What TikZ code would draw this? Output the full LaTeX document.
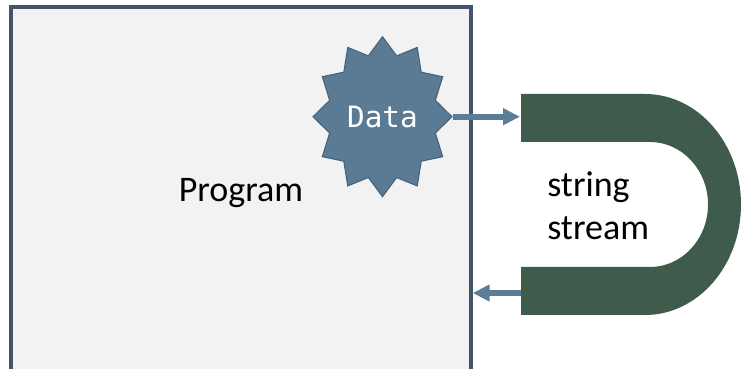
\documentclass[tikz,border=0pt]{standalone}
\usepackage{fontspec}
\setmainfont{Carlito}
\newfontfamily\datafont{DejaVu Sans Mono}
\usetikzlibrary{shapes.geometric,arrows.meta}

\definecolor{progfill}{HTML}{F2F2F2}
\definecolor{progline}{HTML}{44546A}
\definecolor{burstfill}{HTML}{5B7A93}
\definecolor{burstline}{HTML}{47607A}
\definecolor{flowline}{HTML}{5A7D98}
\definecolor{streamfill}{HTML}{3F5B4B}

\begin{document}
\begin{tikzpicture}[
    x=0.75pt, y=0.75pt,
    program/.style={rectangle, draw=progline, fill=progfill, line width=2.5pt,
      minimum width=345pt, minimum height=279pt,
      font=\fontsize{27}{32.4}\selectfont},
    burst/.style={star, star points=12, star point ratio=1.27, minimum size=120pt,
      inner sep=0pt, draw=burstline, fill=burstfill, line width=0.75pt},
    datatext/.style={text=white, font=\datafont\fontsize{22}{26}\selectfont},
    stream/.style={fill=streamfill},
    streamtext/.style={align=left, inner sep=0pt, anchor=west,
      font=\fontsize{27}{32.4}\selectfont},
    flow/.style={-{Triangle[length=12.75pt, width=12pt]}, line width=4.5pt, draw=flowline},
  ]

  \useasboundingbox (0,0) rectangle (743,368);
  \clip (0,0) rectangle (743,368);

  % program box
  \node (program) [program] at (241,175) {Program};

  % data burst
  \begin{scope}[shift={(382.5,251.3)}, xscale=0.869]
    \node (burst) [burst, transform shape] {};
  \end{scope}
  \node (data) [datatext] at (burst.center) {Data};

  % string stream
  \path[stream] (521,274) -- (645,274)
    arc[start angle=90, end angle=-90, x radius=96, y radius=110.5]
    -- (521,53) -- (521,101) -- (650,101)
    arc[start angle=-90, end angle=90, x radius=58, y radius=62.5]
    -- (521,226) -- cycle;
  \coordinate (streamin) at (520,250);
  \coordinate (streamout) at (521,75);
  \node (streamlabel) [streamtext] at (547,162) {string\\stream};

  % flow
  \draw[flow] (burst.east) -- (burst.east -| streamin);
  \draw[flow] (streamout) -- (program.east |- streamout);

\end{tikzpicture}
\end{document}
